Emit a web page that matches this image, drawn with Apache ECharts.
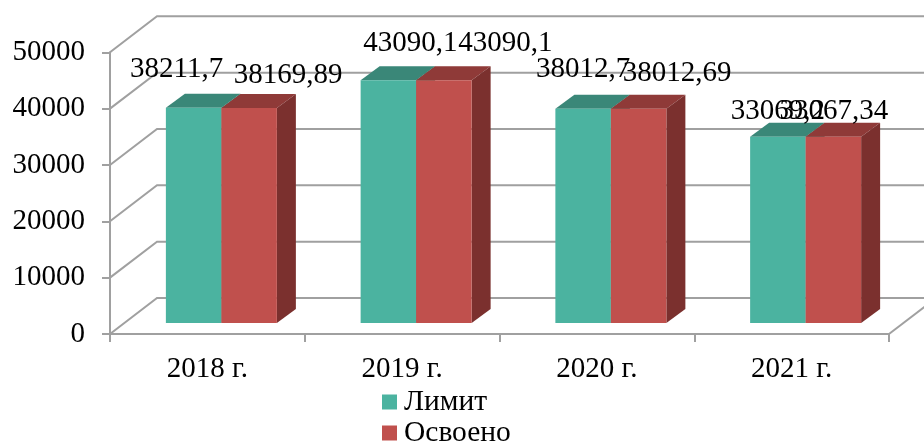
<!DOCTYPE html>
<html><head><meta charset="utf-8"><style>html,body{margin:0;padding:0;background:#fff}#c{width:924px;height:446px}</style>
<script src="https://cdn.jsdelivr.net/npm/echarts@6/dist/echarts.min.js"></script></head>
<body><div id="c"></div><script>
const categories = ['2018 г.', '2019 г.', '2020 г.', '2021 г.'];
const limitValues = [38211.7, 43090.1, 38012.7, 33069.2];
const spentValues = [38169.89, 43090.1, 38012.69, 33067.34];
const limitLabels = ['38211,7', '43090,1', '38012,7', '33069,2'];
const spentLabels = ['38169,89', '43090,1', '38012,69', '33067,34'];
const yTicks = [0, 10000, 20000, 30000, 40000, 50000];
const limitLabelOffset = [[-17, -38.5], [22, -36.5], [0, -39.5], [0, -25.5]];
const spentLabelOffset = [[39, -33], [61.5, -36.5], [38.5, -35.5], [0.5, -25.5]];
const FONT = '"Liberation Serif","Times New Roman",serif', FS = 29;
const WALL = [47, -36], BASE = [14, -11], DEPTH = [19, -14], BARW = 55.5, GRID = '#a0a0a0';
const chart = echarts.init(document.getElementById('c'), null, {renderer: 'canvas'});
function poly(pts, fill) { return {type: 'polygon', shape: {points: pts}, style: {fill, stroke: null}}; }
function barItem(values, labels, offsets, side, colors) {
  return function (params, api) {
    const i = api.value(0);
    const c = api.coord([i, values[i]]), b = api.coord([i, 0]);
    const x0 = b[0] + BASE[0] + (side === 0 ? -BARW : 0), x1 = x0 + BARW;
    const yb = b[1] + BASE[1], yt = c[1] + BASE[1];
    const dx = DEPTH[0], dy = DEPTH[1];
    const o = offsets[i];
    return {type: 'group', children: [
      poly([[x0, yt], [x0 + dx, yt + dy], [x1 + dx, yt + dy], [x1, yt]], colors[1]),
      poly([[x1, yt], [x1 + dx, yt + dy], [x1 + dx, yb + dy], [x1, yb]], colors[2]),
      {type: 'rect', shape: {x: x0, y: yt, width: BARW, height: yb - yt}, style: {fill: colors[0]}},
      {type: 'text', z2: 50, x: (x0 + x1) / 2 + o[0], y: yt + o[1], style: {text: labels[i], fill: '#000', font: FS + 'px ' + FONT, align: 'center', verticalAlign: 'middle'}}
    ]};
  };
}
function wallItem(params, api) {
  const v = api.value(1), band = api.size([1, 0])[0];
  const first = api.coord([0, v]), last = api.coord([categories.length - 1, v]);
  const ax = first[0] - band / 2, ex = last[0] + band / 2, y = first[1];
  const kids = [{type: 'polyline', shape: {points: [[ax, y], [ax + WALL[0], y + WALL[1]], [ex + WALL[0], y + WALL[1]]]}, style: {stroke: GRID, lineWidth: 2, fill: null}}];
  if (v === 0) kids.push({type: 'line', shape: {x1: ex, y1: y, x2: ex + WALL[0], y2: y + WALL[1]}, style: {stroke: GRID, lineWidth: 2}});
  return {type: 'group', children: kids};
}
const axisFont = {color: '#000', fontFamily: FONT, fontSize: FS};
chart.setOption({
  animation: false,
  backgroundColor: '#fff',
  grid: {left: 110, right: 35, top: 52.3, bottom: 112, containLabel: false},
  legend: {orient: 'vertical', left: 382, top: 387, width: 200, height: 120, itemWidth: 15, itemHeight: 15, itemGap: 1, icon: 'rect', padding: 0, align: 'left',
    data: ['Лимит', 'Освоено'], textStyle: {color: '#000', fontFamily: FONT, fontSize: 29.5, lineHeight: 24, padding: [0, 0, 0, 2]}},
  xAxis: {type: 'category', data: categories, boundaryGap: true,
    axisLine: {lineStyle: {color: GRID, width: 2}}, axisTick: {show: true, length: 8, lineStyle: {color: GRID, width: 2}},
    axisLabel: Object.assign({margin: 21}, axisFont)},
  yAxis: {type: 'value', min: yTicks[0], max: yTicks[yTicks.length - 1], interval: yTicks[1] - yTicks[0],
    splitLine: {show: false}, axisLine: {show: true, lineStyle: {color: GRID, width: 2}},
    axisTick: {show: true, length: 8, lineStyle: {color: GRID, width: 2}},
    axisLabel: Object.assign({margin: 25, padding: [3, 0, 0, 0], formatter: v => String(v)}, axisFont)},
  series: [
    {type: 'custom', name: 'wall', silent: true, clip: false, z: 1, data: yTicks.map(v => [0, v]), encode: {x: 0, y: 1}, renderItem: wallItem},
    {type: 'custom', name: 'Лимит', clip: false, z: 2, itemStyle: {color: '#4BB3A0'}, data: categories.map((c, i) => [i, limitValues[i]]), encode: {x: 0, y: 1},
      renderItem: barItem(limitValues, limitLabels, limitLabelOffset, 0, ['#4BB3A0', '#3A8778', '#3A8778'])},
    {type: 'custom', name: 'Освоено', clip: false, z: 3, itemStyle: {color: '#C0504D'}, data: categories.map((c, i) => [i, spentValues[i]]), encode: {x: 0, y: 1},
      renderItem: barItem(spentValues, spentLabels, spentLabelOffset, 1, ['#C0504D', '#8F3A38', '#7B302E'])}
  ]
});
</script></body></html>
